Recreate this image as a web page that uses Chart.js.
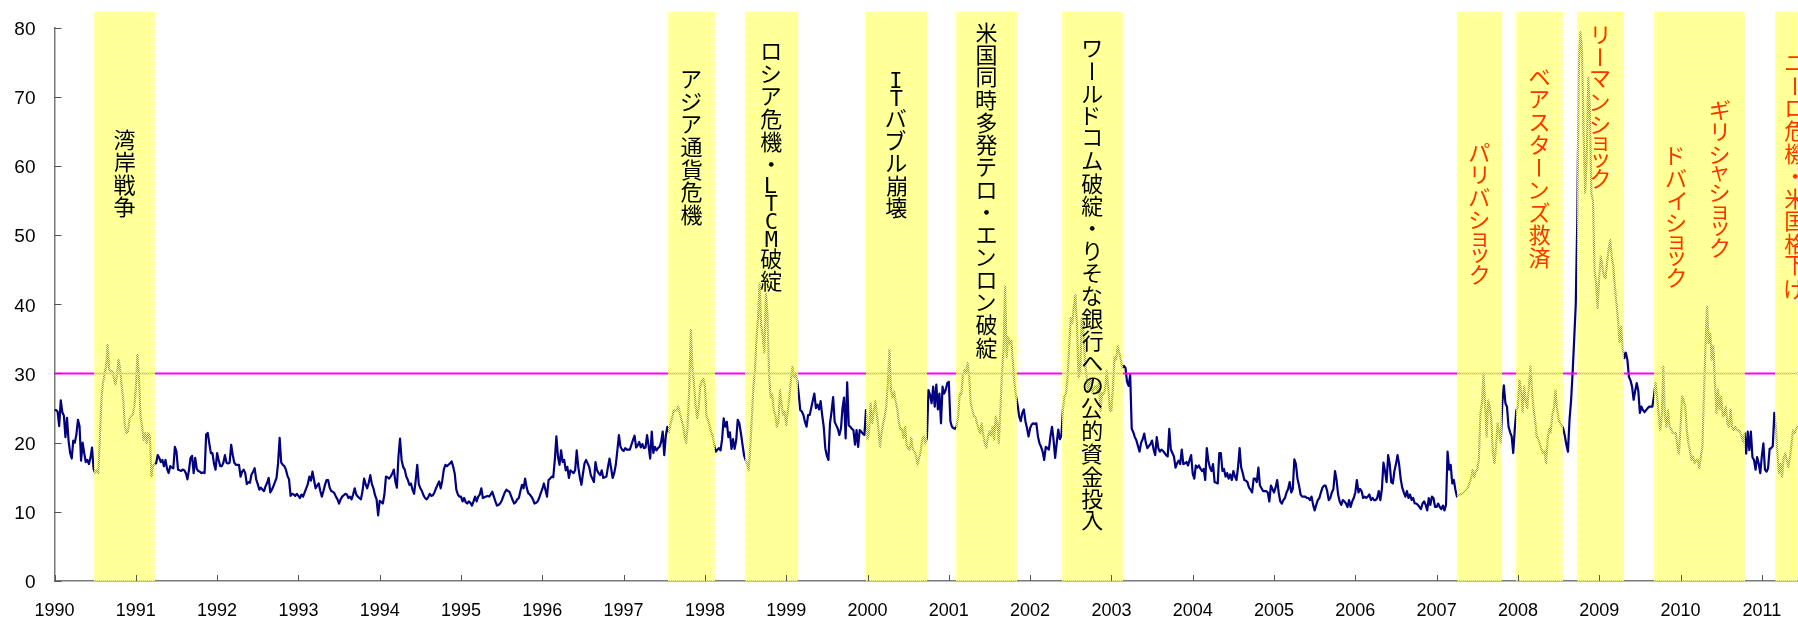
<!DOCTYPE html>
<html>
<head>
<meta charset="utf-8">
<script src="https://cdn.jsdelivr.net/npm/chart.js@4.4.1/dist/chart.umd.min.js"></script>
<style>
  html, body { margin: 0; padding: 0; background: #ffffff; }
  canvas { display: block; }
</style>
</head>
<body>
<canvas id="vixChart" width="1798" height="619"></canvas>
<script>
// Weekly VIX closes, one array per calendar year (52 weeks each)
const vix1990 = [24.7,24.7,24.5,22.4,26.1,24.4,23.9,20.8,23.6,20.3,18.5,17.7,20.3,20.0,21.2,23.3,22.4,17.4,20.0,18.5,17.2,17.5,16.9,17.8,19.3,16.2,15.6,16.0,15.6,20.5,26.2,28.6,30.0,31.0,34.1,30.5,30.4,30.3,29.3,28.4,29.8,32.0,30.5,28.1,26.2,22.4,21.4,21.6,23.5,23.8,24.0,25.2];
const vix1991 = [27.6,32.7,29.6,23.8,22.4,20.4,21.4,19.9,21.4,20.9,15.1,16.6,17.0,17.0,18.2,17.8,17.2,17.5,16.6,17.5,16.2,15.6,16.6,16.4,16.3,19.4,18.7,16.1,16.0,15.9,16.1,16.0,15.6,14.7,16.0,17.8,18.1,15.6,17.8,16.2,15.9,15.8,15.6,15.7,15.6,21.2,21.4,19.9,18.5,18.5,17.0,16.1];
const vix1992 = [18.5,17.5,16.6,16.6,17.1,18.2,17.1,17.0,17.1,19.7,18.2,17.1,16.8,16.8,16.8,15.1,15.8,16.1,15.6,14.0,14.3,14.2,15.4,15.8,16.3,14.7,14.0,13.2,13.5,13.2,13.0,13.7,14.2,14.9,12.8,13.2,13.7,14.3,14.9,17.0,20.7,17.1,16.8,16.6,16.1,15.2,14.7,12.3,12.6,12.5,12.3,12.6];
const vix1993 = [12.3,12.0,12.5,12.2,12.8,13.4,14.0,15.1,14.5,15.8,14.6,13.4,13.8,14.1,13.0,12.2,13.0,13.9,14.6,14.6,13.5,13.0,12.9,12.7,12.2,11.8,11.2,11.8,12.2,12.4,12.6,12.5,12.0,12.2,11.8,12.5,13.4,12.5,12.2,12.0,11.8,13.0,14.8,14.0,13.4,14.2,15.3,14.0,13.4,12.4,11.8,9.5];
const vix1994 = [11.6,11.4,11.2,12.5,15.1,15.0,14.8,15.1,15.5,16.1,14.4,13.5,18.0,20.6,17.5,16.5,16.1,15.1,14.6,13.9,14.1,13.2,12.6,14.5,16.8,14.0,13.4,13.0,12.4,12.0,11.8,12.1,12.6,12.3,12.4,12.8,13.4,13.9,14.4,13.4,14.5,16.1,16.8,16.6,16.8,17.0,17.3,16.5,15.5,13.2,12.5,12.2];
const vix1995 = [12.2,11.5,12.0,11.4,11.2,11.5,11.3,10.9,11.5,12.2,11.5,12.2,12.5,13.4,12.0,12.1,12.2,12.3,12.2,12.5,12.9,12.2,11.5,10.9,11.0,11.2,11.6,12.2,12.8,13.2,13.0,12.9,12.3,11.7,11.2,11.4,11.8,12.0,13.0,13.9,13.4,14.8,13.5,12.7,12.5,12.2,11.8,11.2,11.3,11.5,12.0,12.7];
const vix1996 = [13.3,14.1,13.2,12.2,14.6,14.8,15.1,15.0,17.5,20.9,18.0,16.8,18.9,17.2,17.5,16.0,16.5,14.9,16.0,15.8,15.6,16.0,18.9,16.5,15.0,13.9,15.5,17.0,17.5,17.0,16.5,15.3,14.8,14.3,17.2,16.0,15.6,15.3,16.0,14.9,15.0,15.1,16.5,17.7,16.3,14.9,15.6,16.8,18.9,21.1,19.4,19.0];
const vix1997 = [18.8,19.2,19.0,19.0,19.0,19.7,20.4,21.0,19.3,19.6,20.1,19.3,19.8,19.2,19.3,21.1,19.5,17.7,21.6,18.5,19.4,18.9,19.2,19.4,20.1,21.6,18.2,21.0,22.3,21.5,22.8,23.5,24.7,24.6,24.7,25.2,24.2,23.3,22.6,21.0,19.9,22.6,28.1,36.3,31.0,28.5,25.5,23.5,25.0,28.1,29.0,29.3];
const vix1998 = [28.1,23.8,23.3,22.4,21.5,21.0,19.5,18.7,19.0,19.2,18.9,20.5,23.5,22.3,23.0,20.8,21.5,19.1,20.5,19.1,20.3,23.3,22.8,21.4,19.8,18.2,17.5,17.0,16.0,19.3,23.5,28.0,30.5,35.0,38.0,43.0,37.0,35.5,33.0,41.5,38.5,30.0,26.5,27.0,24.7,24.0,22.3,23.0,27.6,25.6,24.0,24.5];
const vix1999 = [22.5,24.5,26.6,29.0,31.0,29.5,30.0,29.0,27.0,24.7,24.5,24.0,23.0,22.3,24.0,24.0,25.0,26.1,27.1,25.0,25.5,24.8,26.0,24.0,22.3,19.2,18.1,17.5,22.8,24.5,26.6,23.0,22.5,22.0,21.1,22.0,25.0,26.5,20.6,28.7,22.5,22.3,22.0,21.8,19.7,21.8,19.4,21.8,21.6,21.3,21.1,24.7];
const vix2000 = [20.5,21.5,25.7,22.8,24.5,26.0,24.0,21.9,19.4,21.4,22.8,23.8,25.3,28.6,33.4,27.5,26.5,27.4,26.0,25.0,23.0,21.9,22.0,20.7,22.3,19.7,19.2,19.0,20.7,19.0,18.7,18.2,16.8,17.8,18.7,20.5,20.9,19.9,20.7,27.6,26.9,25.7,28.1,25.2,28.4,24.8,27.1,22.8,28.1,27.1,27.6,28.6];
const vix2001 = [28.8,23.1,22.3,22.1,22.0,22.3,23.8,27.1,27.0,29.6,30.5,30.0,31.5,29.6,25.7,24.8,23.8,23.8,22.8,22.0,21.4,22.8,21.2,19.9,19.2,20.9,21.6,21.0,22.3,20.4,23.8,22.8,19.9,24.8,30.0,33.4,42.6,32.4,35.3,34.3,34.8,31.5,28.6,26.7,25.5,23.8,23.1,24.3,24.8,23.1,22.1,20.9];
const vix2002 = [22.1,22.6,22.8,22.7,22.8,20.9,19.9,19.4,18.7,17.5,19.4,19.2,19.0,20.9,22.3,20.4,17.8,19.9,21.9,20.5,21.0,24.8,26.7,27.1,29.6,33.9,38.0,37.3,39.7,41.4,36.8,29.5,30.1,38.0,36.5,32.0,29.8,27.4,28.8,29.3,27.2,28.0,28.2,27.5,28.8,24.6,27.2,27.0,27.7,30.4,28.0,24.6];
const vix2003 = [24.6,28.2,32.4,32.0,34.0,33.0,32.0,30.8,31.1,30.8,28.8,28.2,29.8,22.0,21.5,20.8,20.3,19.5,18.7,20.0,20.5,21.3,20.0,19.2,19.5,19.8,20.3,19.0,18.2,20.8,19.2,18.7,19.0,18.8,18.5,18.2,18.0,22.0,19.0,18.5,18.0,16.4,17.0,17.4,16.9,19.0,16.9,17.0,17.2,16.7,17.5,18.2];
const vix2004 = [15.5,14.8,16.7,16.4,16.7,16.2,15.9,16.2,14.6,19.2,17.4,16.4,15.9,16.9,14.3,14.2,14.1,18.5,18.5,15.9,16.2,15.1,15.6,14.8,15.4,14.6,15.9,15.1,14.6,16.5,19.2,16.4,15.6,14.6,14.5,14.3,13.5,13.2,12.8,14.8,14.8,14.3,16.4,13.8,13.4,13.0,13.0,13.0,12.8,11.5,13.8,13.3];
const vix2005 = [12.8,13.5,14.6,12.8,11.5,11.2,11.7,12.0,12.8,13.3,14.3,12.8,13.3,17.6,16.9,14.8,13.8,12.5,12.2,12.2,12.2,12.0,12.0,11.7,12.2,11.0,10.2,11.0,11.7,12.0,12.8,13.5,13.8,13.8,13.0,11.7,12.0,12.8,13.3,15.9,14.6,12.5,11.5,11.0,11.7,11.5,11.2,10.7,11.7,10.7,11.5,12.0];
const vix2006 = [12.8,14.6,12.8,13.3,13.0,12.0,12.2,12.0,12.2,12.5,11.7,12.0,11.7,11.7,12.0,13.0,11.7,13.3,17.1,15.9,14.3,18.2,16.9,14.3,14.1,15.9,16.9,18.2,16.9,14.8,13.5,12.8,12.2,13.0,12.0,12.5,11.7,12.0,11.2,11.2,11.0,10.7,10.4,11.2,11.5,11.0,10.2,12.0,11.0,12.2,12.0,10.7];
const vix2007 = [10.7,11.2,10.7,10.4,10.9,10.2,11.0,18.7,16.1,16.8,14.1,14.6,13.2,12.2,12.4,12.5,12.6,12.7,13.0,13.2,13.5,14.1,14.8,16.1,15.0,15.8,16.1,17.5,24.2,25.7,30.0,25.5,20.9,26.1,25.2,23.3,18.5,17.0,19.5,22.8,21.5,20.0,25.7,28.3,25.7,25.2,22.3,21.5,20.9,18.5,22.0,24.7];
const vix2008 = [25.2,29.0,27.6,24.4,28.1,26.1,25.0,28.1,31.0,27.5,25.0,23.3,20.9,20.5,19.8,19.0,18.5,18.8,17.0,20.4,22.0,21.5,24.0,25.0,27.6,25.0,23.3,22.8,22.5,22.0,21.0,19.7,18.7,23.3,26.1,30.2,35.0,40.0,52.5,75.0,79.3,76.5,65.0,56.1,61.0,72.7,68.0,56.0,55.0,45.0,43.0,39.4];
const vix2009 = [44.0,46.9,45.5,44.0,43.7,46.0,48.0,49.3,47.0,45.5,42.6,40.2,37.8,34.5,36.8,33.5,32.2,33.0,32.0,29.5,29.0,28.1,26.2,27.5,28.6,27.5,24.3,25.2,24.7,24.4,24.7,25.0,25.2,25.2,25.2,26.7,28.6,26.7,24.3,21.8,23.8,31.0,23.8,22.3,24.7,22.3,22.0,21.4,21.4,21.4,19.4,18.4];
const vix2010 = [22.3,26.7,26.2,25.2,21.8,19.9,18.9,17.5,18.0,17.0,17.5,17.5,16.3,18.0,19.4,27.1,34.4,39.7,34.4,35.8,32.0,34.0,28.6,24.3,27.7,24.8,26.7,23.8,24.0,25.2,22.8,22.3,24.8,22.3,21.8,22.3,21.8,21.8,21.6,21.0,20.1,21.4,18.4,21.6,18.9,21.6,17.9,17.5,16.1,17.9,17.0,15.6];
const vix2011 = [18.0,19.9,16.1,15.8,16.3,19.1,19.2,19.5,24.3,22.3,18.4,15.6,17.0,15.1,17.9,18.4,17.5,16.5,17.9,19.9,21.8,21.4,22.0,22.5];

const seriesYears = [1990,1991,1992,1993,1994,1995,1996,1997,1998,1999,2000,2001,2002,2003,2004,2005,2006,2007,2008,2009,2010,2011];
const seriesByYear = [vix1990,vix1991,vix1992,vix1993,vix1994,vix1995,vix1996,vix1997,vix1998,vix1999,vix2000,vix2001,vix2002,vix2003,vix2004,vix2005,vix2006,vix2007,vix2008,vix2009,vix2010,vix2011];

// Axis ticks
const tickYears = [1990,1991,1992,1993,1994,1995,1996,1997,1998,1999,2000,2001,2002,2003,2004,2005,2006,2007,2008,2009,2010,2011];
const axisEnd = 2011.445;
const alertLevel = 30;

// Market-stress episodes (decimal years)
const eventStart = [1990.49, 1997.55, 1998.49, 1999.98, 2001.09, 2002.39, 2007.25, 2007.98, 2008.73, 2009.67, 2011.16];
const eventEnd   = [1991.23, 1998.12, 1999.14, 2000.73, 2001.84, 2003.14, 2007.81, 2008.55, 2009.30, 2010.79, 2011.60];

// Episode captions and the year each caption column is centred on
const captionText = ['湾岸戦争','アジア通貨危機','ロシア危機・LTCM破綻','ITバブル崩壊','米国同時多発テロ・エンロン破綻','ワールドコム破綻・りそな銀行への公的資金投入','パリバショック','ベアスターンズ救済','リーマンショック','ドバイショック','ギリシャショック','ユーロ危機・米国格下げ'];
const captionYear = [1990.86, 1997.835, 1998.815, 2000.355, 2001.465, 2002.765, 2007.53, 2008.265, 2009.015, 2009.95, 2010.485, 2011.41];

// Caption layout: top of each column (px) and colour group
const captionTop = [128.5, 68.5, 40.5, 71, 21.5, 37.5, 141.5, 66.5, 23.5, 144.5, 98.5, 52.5];
const captionRecent = [false,false,false,false,false,false,true,true,true,true,true,true];

const weeklyPoints = [];
seriesYears.forEach((yr, k) => {
  seriesByYear[k].forEach((v, i) => weeklyPoints.push({ x: yr + i / 52, y: v }));
});
const alertPoints = [{ x: tickYears[0], y: alertLevel }, { x: axisEnd, y: alertLevel }];

// Dithered pale-yellow fill used for the episode bands
function makeBandPattern(ctx) {
  const pc = document.createElement('canvas');
  pc.width = 2; pc.height = 2;
  const p = pc.getContext('2d');
  p.fillStyle = 'rgba(255,255,150,1)';
  p.fillRect(0, 0, 1, 1); p.fillRect(1, 1, 1, 1);
  p.fillStyle = 'rgba(255,255,160,0.55)';
  p.fillRect(1, 0, 1, 1); p.fillRect(0, 1, 1, 1);
  return ctx.createPattern(pc, 'repeat');
}

const SMALL_KANA = 'ァィゥェォッャュョヮ';
const CJK_FONT = '22px "Noto Sans CJK JP"';
const LATIN_FONT = '22px "DejaVu Sans Mono"';
function isLatin(ch) { return /[A-Za-z]/.test(ch); }
function advanceOf(ch) {
  if (SMALL_KANA.includes(ch)) return 16;
  if (isLatin(ch)) return 18;
  return 22.5;
}

// Upright vertical (tategaki) text, one glyph per cell
function drawVertical(ctx, text, cx, top, color) {
  ctx.save();
  ctx.fillStyle = color;
  ctx.textAlign = 'left';
  ctx.textBaseline = 'alphabetic';
  let y = top;
  for (const ch of text) {
    ctx.font = isLatin(ch) ? LATIN_FONT : CJK_FONT;
    const adv = advanceOf(ch);
    const m = ctx.measureText(ch);
    const dx = (m.actualBoundingBoxRight - m.actualBoundingBoxLeft) / 2;
    const dy = (m.actualBoundingBoxDescent - m.actualBoundingBoxAscent) / 2;
    const mid = y + adv / 2;
    if (ch === 'ー') {
      ctx.save();
      ctx.translate(cx, mid);
      ctx.rotate(Math.PI / 2);
      ctx.fillText(ch, -dx, -dy);
      ctx.restore();
    } else {
      ctx.fillText(ch, cx - dx, mid - dy);
    }
    y += adv;
  }
  ctx.restore();
}

const bandPlugin = {
  id: 'episodeBands',
  afterDatasetsDraw(chart) {
    const { ctx, chartArea: a, scales: { x } } = chart;
    if (!this.pattern) this.pattern = makeBandPattern(ctx);
    const bandTop = a.top - 16;
    ctx.save();
    ctx.fillStyle = this.pattern;
    eventStart.forEach((s, i) => {
      const x0 = Math.round(x.getPixelForValue(s));
      const x1 = Math.min(Math.round(x.getPixelForValue(eventEnd[i])), chart.width);
      ctx.fillRect(x0, bandTop, x1 - x0, a.bottom - bandTop);
    });
    ctx.restore();
    captionText.forEach((t, i) => {
      drawVertical(ctx, t, x.getPixelForValue(captionYear[i]), captionTop[i],
        captionRecent[i] ? '#ff3300' : '#000000');
    });
  }
};

// Short inward tick marks on both axes
const tickMarkPlugin = {
  id: 'innerTicks',
  afterDraw(chart) {
    const { ctx, chartArea: a, scales: { x, y } } = chart;
    ctx.save();
    ctx.strokeStyle = '#555555';
    ctx.lineWidth = 1;
    ctx.beginPath();
    y.ticks.forEach(t => {
      const py = Math.round(y.getPixelForValue(t.value)) + 0.5;
      ctx.moveTo(a.left, py); ctx.lineTo(a.left + 7, py);
    });
    tickYears.forEach(v => {
      const px = Math.round(x.getPixelForValue(v)) + 0.5;
      ctx.moveTo(px, a.bottom); ctx.lineTo(px, a.bottom - 6);
    });
    ctx.stroke();
    ctx.restore();
  }
};

const tickFont = { family: '"Liberation Sans", Arial, sans-serif', size: 19 };

new Chart(document.getElementById('vixChart'), {
  type: 'line',
  data: {
    datasets: [
      { data: alertPoints, borderColor: '#ff00ff', borderWidth: 2, pointRadius: 0, order: 0 },
      { data: weeklyPoints, borderColor: '#000080', borderWidth: 2.2, pointRadius: 0, tension: 0, order: 1 }
    ]
  },
  options: {
    responsive: false,
    animation: false,
    devicePixelRatio: 1,
    layout: { padding: { top: 27.6, left: 0, right: 0, bottom: 0 } },
    plugins: { legend: { display: false }, tooltip: { enabled: false } },
    elements: { line: { borderJoinStyle: 'round' } },
    scales: {
      x: {
        type: 'linear',
        min: tickYears[0],
        max: axisEnd,
        z: 1,
        grid: { display: false, drawTicks: false },
        border: { display: true, color: '#7a7a7a', width: 1.5 },
        afterBuildTicks: s => { s.ticks = tickYears.map(v => ({ value: v })); },
        ticks: {
          callback: v => String(v),
          font: { family: tickFont.family, size: 18 },
          color: '#000000',
          padding: 19,
          maxRotation: 0,
          autoSkip: false
        },
        afterFit: s => { s.height = 38; s.paddingLeft = 0; s.paddingRight = 0; }
      },
      y: {
        min: 0,
        max: 80,
        z: 1,
        grid: { display: false, drawTicks: false },
        border: { display: true, color: '#7a7a7a', width: 1.5 },
        ticks: { stepSize: 10, font: tickFont, color: '#000000', padding: 19, labelOffset: 2 },
        afterFit: s => { s.width = 54.5; s.paddingTop = 0; s.paddingBottom = 0; }
      }
    }
  },
  plugins: [bandPlugin, tickMarkPlugin]
});
</script>
</body>
</html>
